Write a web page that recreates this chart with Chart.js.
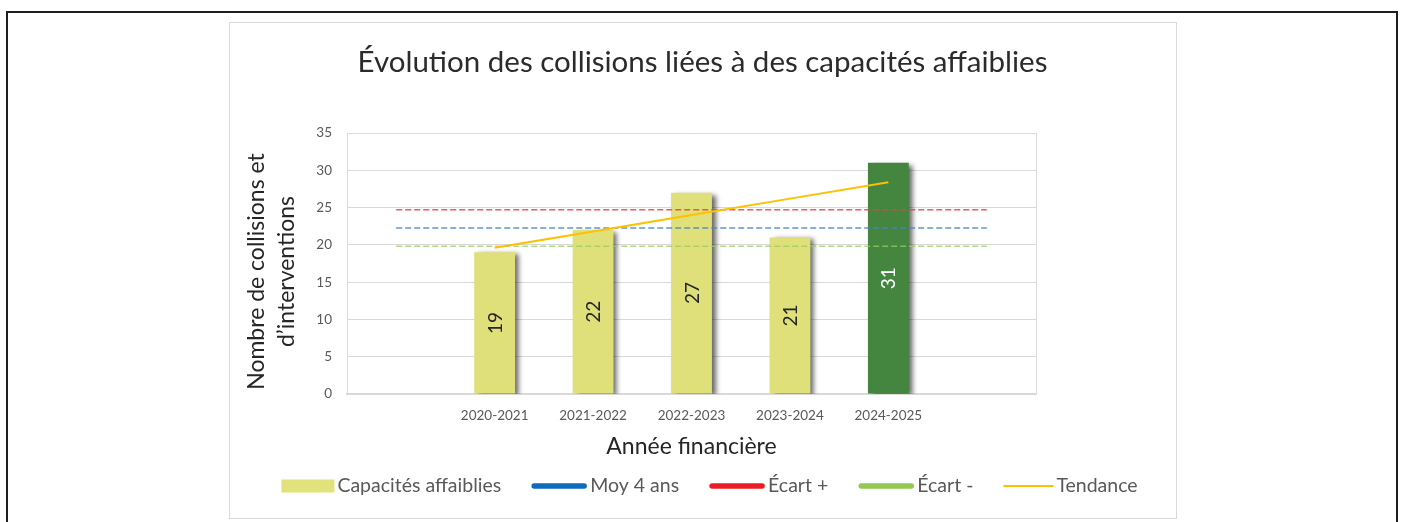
<!DOCTYPE html>
<html lang="fr">
<head>
<meta charset="utf-8">
<title>Évolution des collisions</title>
<script src="https://cdn.jsdelivr.net/npm/chart.js@4.4.1/dist/chart.umd.min.js"></script>
<style>
    html, body { margin: 0; padding: 0; background: #ffffff; width: 1401px; height: 522px; overflow: hidden; }
    #page { position: absolute; left: 6px; top: 11px; width: 1388px; height: 600px; border: 2px solid #1e1e1e; }
    #box { position: absolute; left: 229px; top: 22px; width: 948px; height: 497px; border: 1.5px solid #d9d9d9; box-sizing: border-box; background: #fff; }
    #resultChart { position: absolute; left: 230px; top: 23px; }
</style>
</head>
<body>
<div id="page"></div>
<div id="box"></div>
<canvas id="resultChart" width="945" height="494"></canvas>
<script>
const categories = ['', '2020-2021', '2021-2022', '2022-2023', '2023-2024', '2024-2025', ''];
const capacites = [null, 19, 22, 27, 21, 31, null];
const moy4ans = [22.25, 22.25, 22.25, 22.25, 22.25, 22.25, 22.25];
const ecartPlus = [24.7, 24.7, 24.7, 24.7, 24.7, 24.7, 24.7];
const ecartMoins = [19.8, 19.8, 19.8, 19.8, 19.8, 19.8, 19.8];
const tendance = [null, 19.6, 21.8, 24.0, 26.2, 28.4, null];
const yMin = 0, yMax = 35, yStep = 5;
const yTitleLines = ['Nombre de collisions et', 'd’interventions'];

const barColors = ['#E0E07A', '#E0E07A', '#E0E07A', '#E0E07A', '#E0E07A', '#44853F', '#E0E07A'];
const labelColors = ['#262626', '#262626', '#262626', '#262626', '#262626', '#ffffff', '#262626'];
const legendColors = ['#E1E27C', '#0F6CBD', '#ED1C24', '#92C950', '#FFC000'];
const legendKinds = ['box', 'thick', 'thick', 'thick', 'thin'];

const FONT = 'Lato';

// ombre grise a droite des barres
const barShadow = {
    id: 'barShadow',
    beforeDatasetDraw(chart, args) {
        if (args.index !== 0) return;
        const ctx = chart.ctx;
        ctx.save();
        ctx.shadowColor = 'rgba(0,0,0,0.6)';
        ctx.shadowBlur = 5;
        ctx.shadowOffsetX = 4;
        ctx.shadowOffsetY = 2;
    },
    afterDatasetDraw(chart, args) {
        if (args.index !== 0) return;
        chart.ctx.restore();
    }
};

// contour de la zone de tracé
const plotBorder = {
    id: 'plotBorder',
    beforeDatasetsDraw(chart) {
        const {ctx, chartArea} = chart;
        ctx.save();
        ctx.strokeStyle = '#d9d9d9';
        ctx.lineWidth = 1;
        ctx.beginPath();
        ctx.moveTo(Math.round(chartArea.left) + 0.5, chartArea.top);
        ctx.lineTo(Math.round(chartArea.left) + 0.5, chartArea.bottom);
        ctx.moveTo(Math.round(chartArea.right) + 0.5, chartArea.top);
        ctx.lineTo(Math.round(chartArea.right) + 0.5, chartArea.bottom);
        ctx.stroke();
        ctx.restore();
    }
};

// titre de l'axe Y, un peu plus bas que le centre de l'axe comme dans Excel
const yAxisTitle = {
    id: 'yAxisTitle',
    afterDraw(chart) {
        const ctx = chart.ctx;
        const cy = (chart.chartArea.top + chart.chartArea.bottom) / 2 + 8;
        ctx.save();
        ctx.font = '23px ' + FONT;
        ctx.fillStyle = '#262626';
        ctx.textAlign = 'center';
        ctx.textBaseline = 'middle';
        yTitleLines.forEach((line, i) => {
            ctx.save();
            ctx.translate(27 + i * 30, cy);
            ctx.rotate(-Math.PI / 2);
            ctx.fillText(line, 0, 0);
            ctx.restore();
        });
        ctx.restore();
    }
};

// étiquettes verticales au milieu des barres
const barLabels = {
    id: 'barLabels',
    afterDatasetsDraw(chart) {
        const ctx = chart.ctx;
        const meta = chart.getDatasetMeta(0);
        meta.data.forEach((bar, i) => {
            const v = capacites[i];
            if (v === null) return;
            ctx.save();
            ctx.translate(bar.x, (bar.y + bar.base) / 2);
            ctx.rotate(-Math.PI / 2);
            ctx.font = '19px ' + FONT;
            ctx.fillStyle = labelColors[i];
            ctx.textAlign = 'center';
            ctx.textBaseline = 'middle';
            ctx.fillText(String(v), 0, 1);
            ctx.restore();
        });
    }
};

// légende dessinée à la main (formes différentes par série)
const customLegend = {
    id: 'customLegend',
    afterDraw(chart) {
        const ctx = chart.ctx;
        const datasets = chart.data.datasets;
        const y = 463;
        const swatchW = {box: 53, thick: 56, thin: 50};
        const textGap = 3, itemGap = 30;
        ctx.save();
        ctx.font = '19.5px ' + FONT;
        let total = 0;
        datasets.forEach((ds, i) => {
            total += swatchW[legendKinds[i]] + textGap + ctx.measureText(ds.label).width;
            if (i < datasets.length - 1) total += itemGap;
        });
        let x = 479.5 - total / 2;
        datasets.forEach((ds, i) => {
            const kind = legendKinds[i];
            const w = swatchW[kind];
            ctx.fillStyle = legendColors[i];
            ctx.strokeStyle = legendColors[i];
            if (kind === 'box') {
                ctx.fillRect(x, y - 6.5, w, 13);
            } else {
                ctx.lineWidth = kind === 'thick' ? 5.5 : 2;
                ctx.lineCap = kind === 'thick' ? 'round' : 'butt';
                ctx.beginPath();
                ctx.moveTo(x + (kind === 'thick' ? 3 : 0), y);
                ctx.lineTo(x + w - (kind === 'thick' ? 3 : 0), y);
                ctx.stroke();
            }
            x += w + textGap;
            ctx.fillStyle = '#595959';
            ctx.textAlign = 'left';
            ctx.textBaseline = 'middle';
            ctx.fillText(ds.label, x, y);
            x += ctx.measureText(ds.label).width + itemGap;
        });
        ctx.restore();
    }
};

function renderChart() {
    const ctx = document.getElementById('resultChart').getContext('2d');
    new Chart(ctx, {
        type: 'bar',
        data: {
            labels: categories,
            datasets: [
                {
                    type: 'bar',
                    label: 'Capacités affaiblies',
                    data: capacites,
                    backgroundColor: barColors,
                    barPercentage: 0.415,
                    categoryPercentage: 1,
                    order: 5
                },
                {
                    type: 'line',
                    label: 'Moy 4 ans',
                    data: moy4ans,
                    borderColor: 'rgba(70,130,200,0.85)',
                    borderWidth: 1.5,
                    borderDash: [6, 3],
                    pointRadius: 0,
                    fill: false,
                    order: 2
                },
                {
                    type: 'line',
                    label: 'Écart +',
                    data: ecartPlus,
                    borderColor: 'rgba(240,60,60,0.85)',
                    borderWidth: 1.5,
                    borderDash: [6, 3],
                    pointRadius: 0,
                    fill: false,
                    order: 2
                },
                {
                    type: 'line',
                    label: 'Écart -',
                    data: ecartMoins,
                    borderColor: 'rgba(150,205,100,0.75)',
                    borderWidth: 1.5,
                    borderDash: [6, 3],
                    pointRadius: 0,
                    fill: false,
                    order: 2
                },
                {
                    type: 'line',
                    label: 'Tendance',
                    data: tendance,
                    borderColor: '#FFC000',
                    borderWidth: 2,
                    pointRadius: 0,
                    fill: false,
                    order: 1
                }
            ]
        },
        options: {
            responsive: false,
            animation: false,
            devicePixelRatio: 1,
            layout: { padding: 0 },
            plugins: {
                legend: { display: false },
                tooltip: { enabled: false },
                title: {
                    display: true,
                    text: 'Évolution des collisions liées à des capacités affaiblies',
                    color: '#2b2b2b',
                    font: { family: FONT, size: 29.5, weight: 'normal', lineHeight: 1.2 },
                    padding: { top: 21.3, bottom: 53.3 }
                }
            },
            scales: {
                x: {
                    offset: true,
                    grid: { display: false, drawTicks: false },
                    border: { display: true, color: '#d9d9d9', width: 2 },
                    ticks: { color: '#595959', padding: 14, font: { family: FONT, size: 13.5 } },
                    title: {
                        display: true,
                        text: 'Année financière',
                        color: '#262626',
                        font: { family: FONT, size: 23, lineHeight: 1.2 },
                        padding: { top: 0, bottom: 57 }
                    },
                    afterFit: (scale) => { scale.height = 123; }
                },
                y: {
                    min: yMin,
                    max: yMax,
                    grid: { color: '#d9d9d9', lineWidth: 1, drawTicks: false },
                    border: { display: false },
                    ticks: { stepSize: yStep, color: '#595959', padding: 15, font: { family: FONT, size: 13.5 } },
                    title: { display: false },
                    afterFit: (scale) => { scale.width = 117; }
                },
                yRight: {
                    position: 'right',
                    display: true,
                    grid: { display: false, drawTicks: false },
                    border: { display: false },
                    ticks: { display: false },
                    afterFit: (scale) => { scale.width = 139; }
                }
            }
        },
        plugins: [barShadow, plotBorder, yAxisTitle, barLabels, customLegend]
    });
}

renderChart();
</script>
</body>
</html>
